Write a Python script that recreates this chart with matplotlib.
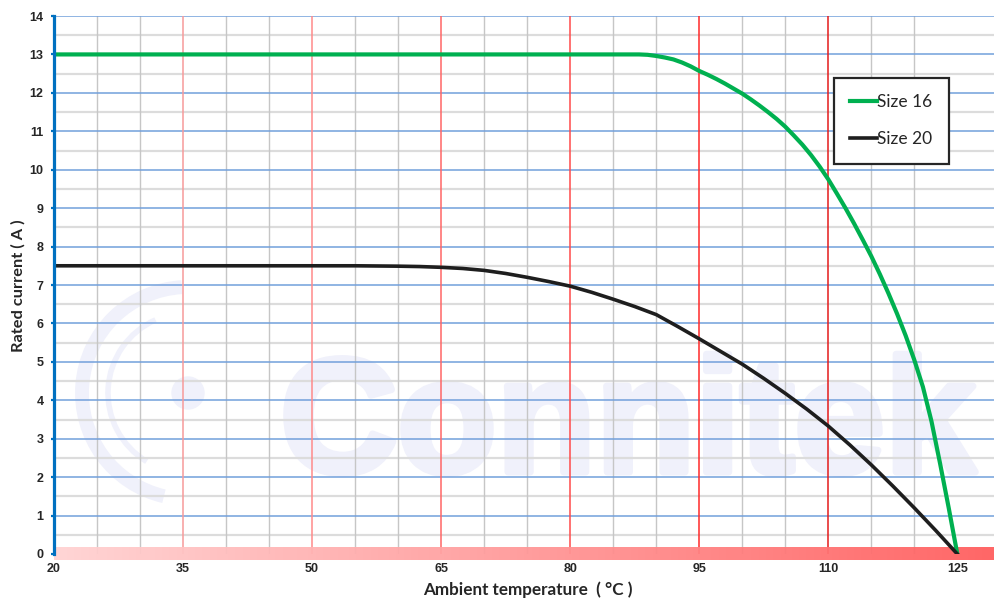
import numpy as np
import matplotlib
matplotlib.use("Agg")
import matplotlib.pyplot as plt
import matplotlib.patheffects as pe
from matplotlib.colors import LinearSegmentedColormap
from matplotlib.patches import Arc, Ellipse

# ---------------- data ----------------
size16_temp = [20, 88, 89, 90, 91, 92, 93, 94, 95, 96, 97, 98, 99, 100, 101, 102, 103, 104,
               105, 106, 107, 108, 109, 110, 111, 112, 113, 114, 115, 116, 117, 118, 119,
               120, 121, 122, 123, 124, 125]
size16_curr = [13, 13.0, 12.99, 12.96, 12.92, 12.87, 12.79, 12.69, 12.57, 12.47, 12.36, 12.24,
               12.11, 11.98, 11.83, 11.67, 11.5, 11.32, 11.12, 10.89, 10.65, 10.38, 10.08,
               9.75, 9.38, 9.0, 8.6, 8.18, 7.75, 7.28, 6.78, 6.25, 5.68, 5.05, 4.35, 3.45,
               2.35, 1.2, 0.0]

size20_temp = [20, 50, 55, 60, 62.5, 65, 67.5, 70, 72.5, 75, 77.5, 80, 82.5, 85, 87.5, 90,
               92.5, 95, 97.5, 100, 102.5, 105, 107.5, 110, 112.5, 115, 117.5, 120, 122.5, 125]
size20_curr = [7.5, 7.5, 7.5, 7.49, 7.48, 7.46, 7.43, 7.38, 7.3, 7.2, 7.09, 6.97, 6.81, 6.63,
               6.44, 6.23, 5.92, 5.6, 5.27, 4.94, 4.57, 4.18, 3.77, 3.33, 2.84, 2.32, 1.77,
               1.2, 0.61, 0.0]

x_ticks = [20, 35, 50, 65, 80, 95, 110, 125]
y_ticks = list(range(0, 15))
series_labels = ["Size 16", "Size 20"]
x_title = "Ambient temperature  ( °C )"
y_title = "Rated current ( A )"
watermark = "Connitek"

# ---------------- figure ----------------
W, H = 995, 600
fig = plt.figure(figsize=(W / 100, H / 100), dpi=100)
ax = fig.add_axes([54 / W, 1 - 554 / H, 1 - 54 / W, (554 - 16) / H])

x_max = 20 + (995 - 54) / 8.603
ax.set_xlim(20, x_max)
ax.set_ylim(0, 14)

# grid: half-unit gray horizontal lines, integer blue lines
for v in np.arange(0.5, 14, 1.0):
    ax.axhline(v, color="#dcdcdc", lw=1.6, zorder=1)
for v in range(1, 15):
    ax.axhline(v, color="#72a0db", lw=1.1, zorder=1.2)
# vertical lines: gray every 5, red every 15
for v in np.arange(25, x_max, 5):
    if (v - 20) % 15 != 0:
        ax.axvline(v, color="#c6c6c6", lw=1.0, zorder=1.1)
red_cols = ["#f7a3a3", "#f79a9a", "#ff8a8a", "#ff6666", "#ff4a4a", "#ff2a2a", "#e41b1b"]
for v, c in zip(x_ticks[1:], red_cols[1:]):
    ax.axvline(v, color=c, lw=1.1, zorder=1.3)

# watermark (behind the grid)
wm_col = "#f0f1fb"
ax.text(280 / W, 1 - 472 / H, watermark, transform=fig.transFigure,
        fontsize=117, fontweight="bold", family="Liberation Sans",
        color=wm_col, ha="left", va="baseline", zorder=0.5, clip_on=False,
        path_effects=[pe.withStroke(linewidth=5, foreground=wm_col)])
cx, cy = 188 / W, 1 - 393 / H
ax.add_patch(Arc((cx, cy), 2 * 106 / W, 2 * 106 / H, theta1=92, theta2=262,
                 transform=fig.transFigure, color=wm_col, lw=10, zorder=0.5, clip_on=False))
ax.add_patch(Arc((cx, cy), 2 * 80 / W, 2 * 80 / H, theta1=105, theta2=250,
                 transform=fig.transFigure, color=wm_col, lw=4, zorder=0.5, clip_on=False))
ax.add_patch(Ellipse((cx, cy), 2 * 16 / W, 2 * 16 / H, transform=fig.transFigure,
                     color=wm_col, zorder=0.5, clip_on=False))

# bottom gradient band
cmap = LinearSegmentedColormap.from_list("band", ["#ffd3d3", "#ff5f5f"])
grad = np.linspace(0, 1, 256).reshape(1, -1)
ax.imshow(grad, cmap=cmap, aspect="auto", extent=[20, x_max, -0.16, 0.16],
          zorder=3, clip_on=False, alpha=0.95, interpolation="bilinear")
ax.set_xlim(20, x_max)
ax.set_ylim(0, 14)

# curves
l1, = ax.plot(size16_temp, size16_curr, color="#00b050", lw=3.0, zorder=5,
              solid_joinstyle="round", label=series_labels[0])
l2, = ax.plot(size20_temp, size20_curr, color="#1e1e1e", lw=2.6, zorder=5,
              solid_joinstyle="round", label=series_labels[1])

# spines
for s in ["top", "right", "bottom"]:
    ax.spines[s].set_visible(False)
ax.spines["left"].set_color("#0070c0")
ax.spines["left"].set_linewidth(2.3)
ax.spines["left"].set_zorder(6)

ax.set_xticks(x_ticks)
ax.set_xticklabels([str(t) for t in x_ticks])
ax.set_yticks(y_ticks)
ax.set_yticklabels([str(t) for t in y_ticks])
ax.tick_params(axis="x", length=0, pad=6.5, labelsize=9, labelcolor="#262626")
ax.tick_params(axis="y", length=2.5, width=1.6, color="#0070c0", direction="out",
               pad=5, labelsize=9, labelcolor="#262626")
for lab in ax.get_xticklabels() + ax.get_yticklabels():
    lab.set_fontweight("bold")
    lab.set_family("Liberation Sans")

fig.text(528 / W, 1 - 590 / H, x_title, ha="center", va="center",
         fontsize=12.3, fontweight="bold", family="Lato", color="#262626")
fig.text(18 / W, 1 - 286 / H, y_title, ha="center", va="center", rotation=90,
         fontsize=11.8, fontweight="bold", family="Lato", color="#262626")

leg = ax.legend(handles=[l1, l2], loc="upper left",
                bbox_to_anchor=(834 / W, 1 - 78 / H), bbox_transform=fig.transFigure,
                frameon=True, fancybox=False, edgecolor="#262626", framealpha=1,
                prop={"family": "Lato", "size": 12.5}, handlelength=1.5,
                handletextpad=0.05, labelspacing=1.2, borderpad=0.95,
                borderaxespad=0)
leg.get_frame().set_linewidth(1.6)
leg.set_zorder(7)
for t in leg.get_texts():
    t.set_color("#262626")

fig.savefig("out.png", dpi=100)
